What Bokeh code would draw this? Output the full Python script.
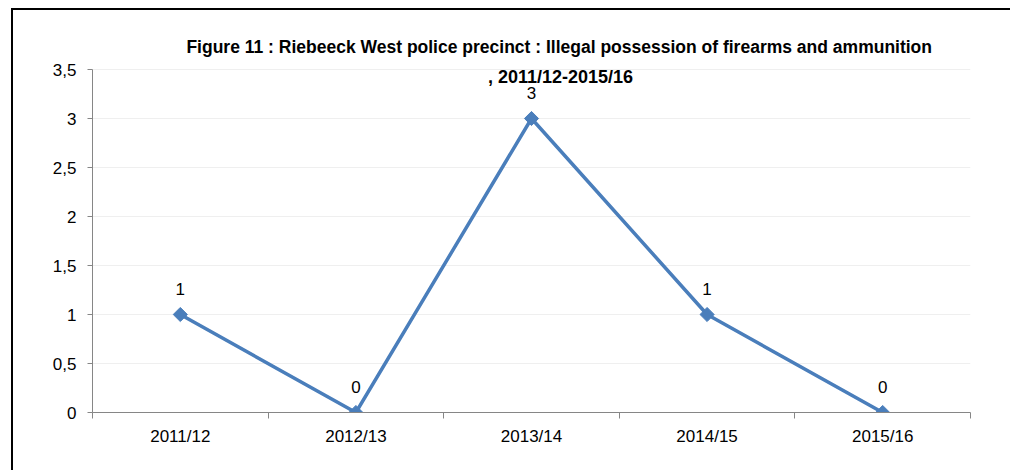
from bokeh.plotting import figure
from bokeh.models import FixedTicker, Label, ColumnDataSource
from bokeh.core.properties import value
from bokeh.embed import file_html
from bokeh.resources import INLINE

categories = ["2011/12", "2012/13", "2013/14", "2014/15", "2015/16"]
counts = [1, 0, 3, 1, 0]
y_ticks = [0, 0.5, 1, 1.5, 2, 2.5, 3, 3.5]
y_tick_labels = ["0", "0,5", "1", "1,5", "2", "2,5", "3", "3,5"]
title_line1 = "Figure 11 : Riebeeck West police precinct : Illegal  possession of  firearms  and ammunition"
title_line2 = ", 2011/12-2015/16"

FONT = "Liberation Sans"
xs = list(range(len(categories)))
src = ColumnDataSource(dict(x=xs, y=counts, lbl=[str(c) for c in counts]))

# figure origin at (11, 8) in the page; frame spans x 92..970, y 20..412
p = figure(width=999, height=462, output_backend="svg", toolbar_location=None,
           x_range=(-0.5, len(categories) - 0.5), y_range=(0, 4.0),
           min_border_left=81, min_border_top=12, min_border_right=40, min_border_bottom=58)
p.styles = {"margin-left": "11px", "margin-top": "8px",
            "box-shadow": "inset 2px 2px 0 0 black"}
p.title.visible = False
p.toolbar.logo = None
p.outline_line_color = None
p.background_fill_color = "white"
p.border_fill_color = None

# x axis
p.xaxis.ticker = FixedTicker(ticks=xs, minor_ticks=[i - 0.5 for i in range(len(categories) + 1)])
p.xaxis.major_label_overrides = {i: c for i, c in enumerate(categories)}
p.xaxis.major_tick_out = 0
p.xaxis.major_tick_in = 0
p.xaxis.minor_tick_out = 6
p.xaxis.minor_tick_in = 0
p.xaxis.axis_line_color = "#868686"
p.xaxis.minor_tick_line_color = "#868686"
p.xaxis.major_label_text_font = FONT
p.xaxis.major_label_text_font_size = "17px"
p.xaxis.major_label_text_color = "black"
p.xaxis.major_label_standoff = 8

# y axis
p.yaxis.ticker = FixedTicker(ticks=y_ticks, minor_ticks=[])
p.yaxis.bounds = (y_ticks[0], y_ticks[-1])
p.yaxis.major_label_overrides = {t: l for t, l in zip(y_ticks, y_tick_labels)}
p.yaxis.major_tick_out = 5
p.yaxis.major_tick_in = 0
p.yaxis.axis_line_color = "#868686"
p.yaxis.major_tick_line_color = "#868686"
p.yaxis.major_label_text_font = FONT
p.yaxis.major_label_text_font_size = "17px"
p.yaxis.major_label_text_color = "black"
p.yaxis.major_label_standoff = 11

p.xgrid.grid_line_color = None
p.ygrid.grid_line_color = "#efefef"
p.ygrid.ticker = FixedTicker(ticks=y_ticks[1:])

p.line("x", "y", source=src, line_color="#4a7ebb", line_width=3.5)
p.scatter("x", "y", source=src, marker="square", angle=0.785398, size=10,
          fill_color="#4a7ebb", line_color="#4a7ebb")
p.text("x", "y", text="lbl", source=src, y_offset=-20, text_align="center", text_baseline="bottom",
       text_font=value(FONT), text_font_size="17px", text_color="black")

p.add_layout(Label(x=474, y=366, x_units="screen", y_units="screen", text=title_line1,
                   text_align="center", text_baseline="middle", text_font=FONT,
                   text_font_size="17.5px", text_font_style="bold", text_color="black"))
p.add_layout(Label(x=468, y=336, x_units="screen", y_units="screen", text=title_line2,
                   text_align="center", text_baseline="middle", text_font=FONT,
                   text_font_size="18px", text_font_style="bold", text_color="black"))

open("out.html", "w").write(file_html(p, INLINE))
